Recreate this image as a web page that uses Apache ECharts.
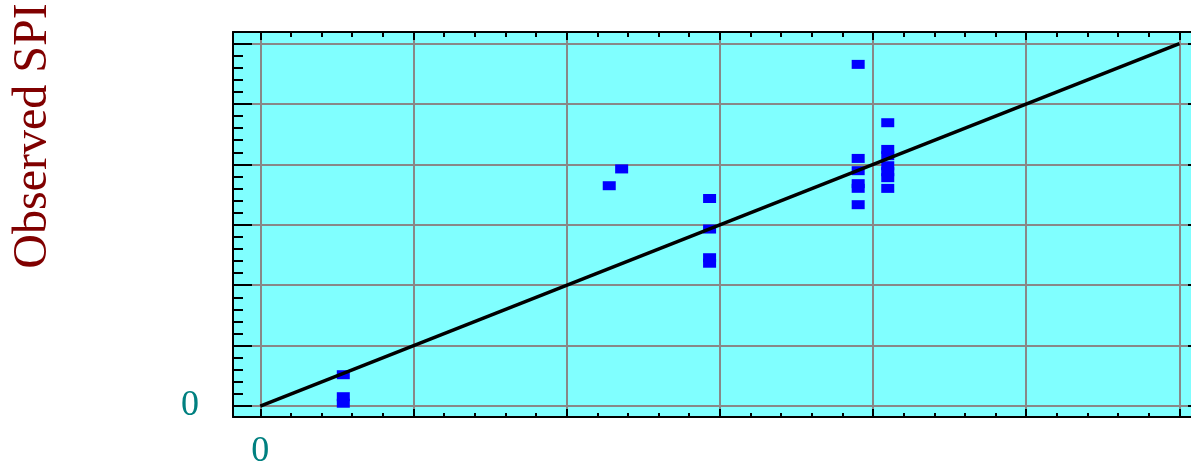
<!DOCTYPE html>
<html>
<head>
<meta charset="utf-8">
<script src="https://cdn.jsdelivr.net/npm/echarts@6/dist/echarts.min.js"></script>
<style>
  html, body { margin: 0; padding: 0; background: #ffffff; }
  #chart { width: 1191px; height: 461px; }
</style>
</head>
<body>
<div id="chart"></div>
<script>
// ---- data (in grid units) ----
const predictedSPI = [0.542, 0.542, 0.542,
                      2.278, 2.359,
                      2.933, 2.933, 2.933, 2.933,
                      3.903, 3.903, 3.903, 3.903, 3.903, 3.903,
                      4.096, 4.096, 4.096, 4.096, 4.096, 4.096, 4.096];
const observedSPI  = [0.518, 0.154, 0.046,
                      3.647, 3.925,
                      3.435, 2.930, 2.455, 2.364,
                      5.656, 4.099, 3.896, 3.681, 3.604, 3.333,
                      4.690, 4.248, 4.144, 3.978, 3.879, 3.780, 3.603];
const lineX = [0, 6];
const lineY = [0, 6];
const majorTicks = [0, 1, 2, 3, 4, 5, 6];
const xTickLabels = [0];
const yTickLabels = [0];
const yTitle = 'Observed SPI';

// axis extents
const xMin = -0.178, xMax = 6.18;
const yMin = -0.182, yMax = 6.192;

const minorTicks = [];
for (let i = 0; i < 6; i++) for (let j = 1; j < 5; j++) minorTicks.push(+(i + j * 0.2).toFixed(2));

const frameColor = '#000000';
const gridColor = '#888888';
const labelFont = { color: '#008080', fontFamily: 'Liberation Serif', fontSize: 36 };

function axisBase(pos, extra) {
  return Object.assign({
    type: 'value', position: pos, gridIndex: 0,
    axisLine: { show: false, onZero: false },
    axisTick: { show: false },
    axisLabel: { show: false },
    splitLine: { show: false },
    axisPointer: { show: false }
  }, extra);
}

const xAxes = [
  axisBase('bottom', {
    min: xMin, max: xMax,
    axisLine: { show: true, onZero: false, lineStyle: { color: frameColor, width: 2 } },
    axisTick: { show: true, inside: true, length: 8, customValues: majorTicks, lineStyle: { color: frameColor, width: 2 } },
    axisLabel: Object.assign({ show: true, margin: 17, customValues: xTickLabels }, labelFont),
    splitLine: { show: true, lineStyle: { color: gridColor, width: 2 } }
  }),
  axisBase('bottom', {
    min: xMin, max: xMax,
    axisTick: { show: true, inside: true, length: 4, customValues: minorTicks, lineStyle: { color: frameColor, width: 2 } }
  }),
  axisBase('top', {
    min: xMin, max: xMax,
    axisLine: { show: true, onZero: false, lineStyle: { color: frameColor, width: 2 } },
    axisTick: { show: true, inside: true, length: 8, customValues: majorTicks, lineStyle: { color: frameColor, width: 2 } }
  }),
  axisBase('top', {
    min: xMin, max: xMax,
    axisTick: { show: true, inside: true, length: 5, customValues: minorTicks, lineStyle: { color: frameColor, width: 2 } }
  })
];

const yAxes = [
  axisBase('left', {
    min: yMin, max: yMax,
    axisLine: { show: true, onZero: false, lineStyle: { color: frameColor, width: 2 } },
    axisTick: { show: true, inside: true, length: 19, customValues: majorTicks, lineStyle: { color: frameColor, width: 2 } },
    axisLabel: Object.assign({ show: true, margin: 34, customValues: yTickLabels }, labelFont),
    splitLine: { show: true, lineStyle: { color: gridColor, width: 2 } }
  }),
  axisBase('left', {
    min: yMin, max: yMax,
    axisTick: { show: true, inside: true, length: 10, customValues: minorTicks, lineStyle: { color: frameColor, width: 2 } }
  }),
  axisBase('right', {
    min: yMin, max: yMax,
    axisLine: { show: true, onZero: false, lineStyle: { color: frameColor, width: 2 } },
    axisTick: { show: true, inside: true, length: 19, customValues: majorTicks, lineStyle: { color: frameColor, width: 2 } }
  }),
  axisBase('right', {
    min: yMin, max: yMax,
    axisTick: { show: true, inside: true, length: 10, customValues: minorTicks, lineStyle: { color: frameColor, width: 2 } }
  })
];

const chart = echarts.init(document.getElementById('chart'), null, { renderer: 'canvas' });
chart.setOption({
  animation: false,
  backgroundColor: '#ffffff',
  grid: {
    left: 233, top: 32, width: 974, height: 385,
    containLabel: false,
    outerBoundsMode: 'none',
    show: true, backgroundColor: '#80ffff', borderWidth: 0
  },
  xAxis: xAxes,
  yAxis: yAxes,
  graphic: [{
    type: 'text',
    x: 33, y: 136,
    rotation: Math.PI / 2,
    style: {
      text: yTitle,
      fill: '#800000',
      font: '48px "Liberation Serif"',
      align: 'center',
      verticalAlign: 'middle'
    }
  }],
  series: [
    {
      type: 'scatter',
      xAxisIndex: 0, yAxisIndex: 0,
      symbol: 'rect',
      symbolSize: [13, 9],
      itemStyle: { color: '#0000ff', opacity: 1 },
      data: predictedSPI.map((x, i) => [x, observedSPI[i]]),
      z: 2
    },
    {
      type: 'line',
      xAxisIndex: 0, yAxisIndex: 0,
      symbol: 'none',
      lineStyle: { color: '#000000', width: 3.5 },
      data: lineX.map((x, i) => [x, lineY[i]]),
      z: 3
    }
  ]
});
</script>
</body>
</html>
